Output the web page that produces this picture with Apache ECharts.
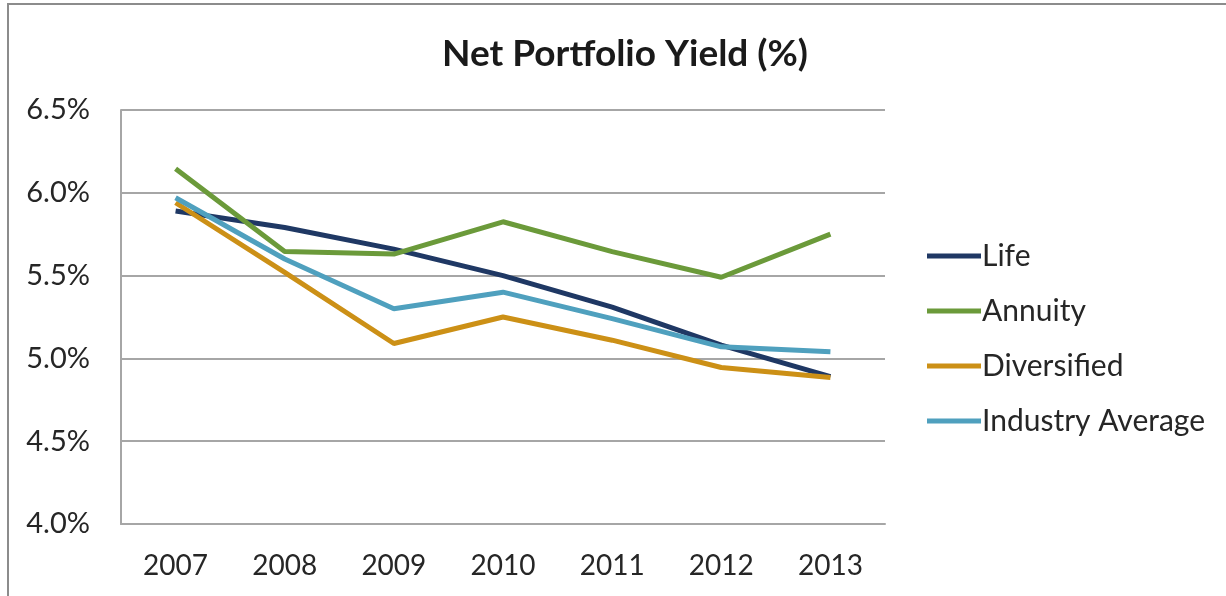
<!DOCTYPE html>
<html>
<head>
<meta charset="utf-8">
<script src="https://cdn.jsdelivr.net/npm/echarts@6/dist/echarts.min.js"></script>
<style>
html,body{margin:0;padding:0;background:#fff;}
#main{width:1226px;height:596px;}
</style>
</head>
<body>
<div id="main"></div>
<script>
const categories = ['2007','2008','2009','2010','2011','2012','2013'];
const life = [5.89, 5.79, 5.66, 5.50, 5.31, 5.08, 4.89];
const annuity = [6.145, 5.645, 5.63, 5.825, 5.645, 5.49, 5.75];
const diversified = [5.94, 5.52, 5.09, 5.25, 5.11, 4.945, 4.885];
const industryAverage = [5.97, 5.60, 5.30, 5.40, 5.24, 5.07, 5.04];
const seriesNames = ['Life', 'Annuity', 'Diversified', 'Industry Average'];
const yTicks = { min: 4.0, max: 6.5, interval: 0.5 };

const colors = ['#1F3864', '#6B9A3A', '#CC9016', '#4FA0BE'];
const FONT = 'Lato';
const chart = echarts.init(document.getElementById('main'));
const data = [life, annuity, diversified, industryAverage];

chart.setOption({
  animation: false,
  backgroundColor: '#fff',
  title: {
    text: 'Net Portfolio Yield (%)',
    left: 620, textAlign: 'center', top: 31,
    textStyle: { fontFamily: FONT, fontWeight: 'bold', fontSize: 37, color: '#1a1a1a' }
  },
  grid: { left: 121, right: 341, top: 110, bottom: 72 },
  legend: {
    orient: 'vertical', left: 922, top: 236,
    itemWidth: 54, itemHeight: 5, itemGap: 25,
    icon: 'rect',
    textStyle: { fontFamily: FONT, fontSize: 30, color: '#262626', lineHeight: 30, padding: [0,0,0,-4] },
    data: seriesNames
  },
  xAxis: {
    type: 'category', data: categories, boundaryGap: true,
    axisLine: { lineStyle: { color: '#A6A6A6', width: 2 } },
    axisTick: { show: false },
    axisLabel: { fontFamily: FONT, fontSize: 28, color: '#262626', margin: 28 }
  },
  yAxis: {
    type: 'value', min: yTicks.min, max: yTicks.max, interval: yTicks.interval,
    axisLine: { show: true, lineStyle: { color: '#A6A6A6', width: 2 } },
    axisTick: { show: false },
    splitLine: { lineStyle: { color: '#A6A6A6', width: 2 } },
    axisLabel: { fontFamily: FONT, fontSize: 29, color: '#262626', margin: 31,
      formatter: v => v.toFixed(1) + '%' }
  },
  graphic: [
    { type: 'line', shape: { x1: 7, y1: 4, x2: 1226, y2: 4 }, style: { stroke: '#8c8c8c', lineWidth: 2 } },
    { type: 'line', shape: { x1: 8, y1: 3, x2: 8, y2: 596 }, style: { stroke: '#8c8c8c', lineWidth: 2 } }
  ],
  series: seriesNames.map((n, i) => ({
    name: n, type: 'line', data: data[i],
    symbol: 'none', color: colors[i],
    lineStyle: { width: 5, color: colors[i] }
  }))
});
</script>
</body>
</html>
